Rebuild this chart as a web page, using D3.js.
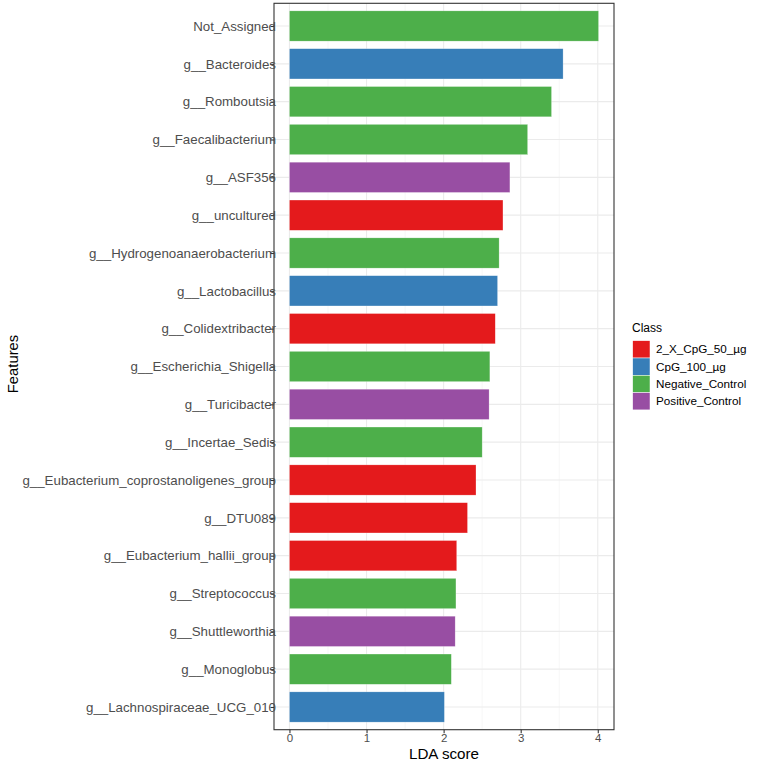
<!DOCTYPE html>
<html><head><meta charset="utf-8">
<script src="https://cdn.jsdelivr.net/npm/d3@7"></script>
<style>body{margin:0;background:#fff;} text{font-family:"Liberation Sans",Arial,sans-serif;}</style>
</head><body>
<svg id="c" width="759" height="761"></svg>
<script>
const features = ["Not_Assigned","g__Bacteroides","g__Romboutsia","g__Faecalibacterium","g__ASF356","g__uncultured","g__Hydrogenoanaerobacterium","g__Lactobacillus","g__Colidextribacter","g__Escherichia_Shigella","g__Turicibacter","g__Incertae_Sedis","g__Eubacterium_coprostanoligenes_group","g__DTU089","g__Eubacterium_hallii_group","g__Streptococcus","g__Shuttleworthia","g__Monoglobus","g__Lachnospiraceae_UCG_010"];
const ldaScores = [4.01,3.55,3.40,3.09,2.86,2.77,2.72,2.70,2.67,2.60,2.59,2.50,2.42,2.31,2.17,2.16,2.15,2.10,2.01];
const classOf = ["Negative_Control","CpG_100_µg","Negative_Control","Negative_Control","Positive_Control","2_X_CpG_50_µg","Negative_Control","CpG_100_µg","2_X_CpG_50_µg","Negative_Control","Positive_Control","Negative_Control","2_X_CpG_50_µg","2_X_CpG_50_µg","2_X_CpG_50_µg","Negative_Control","Positive_Control","Negative_Control","CpG_100_µg"];
const classes = ["2_X_CpG_50_µg","CpG_100_µg","Negative_Control","Positive_Control"];
const classColors = ["#E41A1C","#377EB8","#4DAF4A","#984EA3"];
const xTicks = [0,1,2,3,4];

const svg = d3.select("#c");
const L = 274, R = 614, T = 3.3, B = 729.7;
const maxV = d3.max(ldaScores);
const x = d3.scaleLinear().domain([-0.05*maxV, 1.05*maxV]).range([L, R]);
const n = features.length;
const step = (B - T) / (n - 1 + 1.2);
const y = d3.scalePoint().domain(features).range([T + 0.6*step, B - 0.6*step]);
const color = d3.scaleOrdinal().domain(classes).range(classColors);

const g = svg.append("g");
// minor grid
const minor = [0.5,1.5,2.5,3.5];
g.selectAll(".mn").data(minor).enter().append("line")
  .attr("x1", d=>x(d)).attr("x2", d=>x(d)).attr("y1", T).attr("y2", B)
  .attr("stroke", "#f2f2f2").attr("stroke-width", 0.6);
g.selectAll(".mj").data(xTicks).enter().append("line")
  .attr("x1", d=>x(d)).attr("x2", d=>x(d)).attr("y1", T).attr("y2", B)
  .attr("stroke", "#ebebeb").attr("stroke-width", 1.1);
g.selectAll(".hy").data(features).enter().append("line")
  .attr("x1", L).attr("x2", R).attr("y1", d=>y(d)).attr("y2", d=>y(d))
  .attr("stroke", "#ebebeb").attr("stroke-width", 1.1);

// bars
const bh = 0.8 * step;
g.selectAll(".bar").data(features).enter().append("rect")
  .attr("x", x(0)).attr("y", d=>y(d) - bh/2)
  .attr("width", (d,i)=>x(ldaScores[i]) - x(0)).attr("height", bh)
  .attr("fill", (d,i)=>color(classOf[i]))
  .attr("stroke", "#ffffff").attr("stroke-opacity", 0.5).attr("stroke-width", 0.5);

// panel border
g.append("rect").attr("x", L).attr("y", T).attr("width", R-L).attr("height", B-T)
  .attr("fill", "none").attr("stroke", "#333333").attr("stroke-width", 1.1);

// x axis
const xa = svg.append("g").attr("transform", `translate(0,${B})`)
  .call(d3.axisBottom(x).tickValues(xTicks).tickFormat(d3.format("d")).tickSize(3.5).tickPadding(1));
xa.select(".domain").remove();
xa.selectAll("line").attr("stroke", "#333").attr("stroke-width", 1.1);
xa.selectAll("text").attr("fill", "#4d4d4d").style("font-size", "11.5px")
  .style("font-family", '"Liberation Sans",Arial,sans-serif');

// y axis
const ya = svg.append("g").attr("transform", `translate(${L},0)`)
  .call(d3.axisLeft(y).tickSize(3.5).tickPadding(-5.5));
ya.select(".domain").remove();
ya.selectAll("line").attr("stroke", "#333").attr("stroke-width", 1.1);
ya.selectAll("text").attr("fill", "#4d4d4d").style("font-size", "13.3px")
  .style("font-family", '"Liberation Sans",Arial,sans-serif');

// titles
svg.append("text").attr("x", (L+R)/2).attr("y", 758.5).attr("text-anchor", "middle")
  .style("font-size", "15.2px").attr("fill", "#000").text("LDA score");
svg.append("text").attr("transform", `translate(18,${(T+B)/2 - 2.5}) rotate(-90)`).attr("text-anchor", "middle")
  .style("font-size", "14.8px").attr("fill", "#000").text("Features");

// legend
const lg = svg.append("g").attr("transform", "translate(632,0)");
lg.append("text").attr("x", 0).attr("y", 331.5).style("font-size", "12px").attr("fill", "#000").text("Class");
const ks = 17.3;
classes.forEach((c, i) => {
  const yy = 340.7 + i*ks;
  lg.append("rect").attr("x", 0.7).attr("y", yy).attr("width", ks).attr("height", ks)
    .attr("fill", classColors[i]).attr("stroke", "#fff").attr("stroke-width", 0.5);
  lg.append("text").attr("x", 24).attr("y", yy + ks/2 + 4.1).style("font-size", "11.7px")
    .attr("fill", "#000").text(c);
});
</script>
</body></html>
